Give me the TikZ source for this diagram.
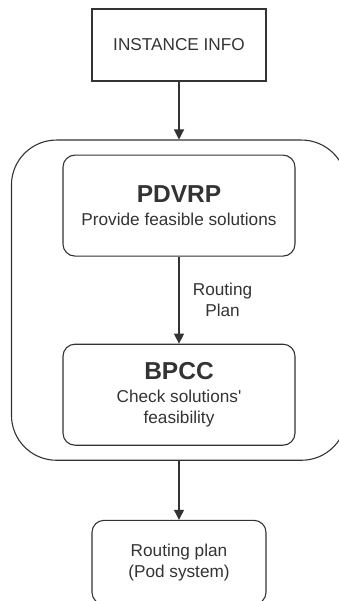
\documentclass[tikz,border=0pt]{standalone}
\usepackage{fontspec}
\setmainfont{Liberation Sans}
\usepackage{xcolor}
\usetikzlibrary{arrows.meta, positioning, fit, backgrounds}

\definecolor{inkgray}{HTML}{333333}
\newcommand{\bodyfont}{\fontsize{17.2}{21}\selectfont}
\newcommand{\titlefont}{\fontsize{24.5}{24}\selectfont\bfseries}

\begin{document}
\begin{tikzpicture}[
  font=\bodyfont,
  >={Triangle[width=10pt,length=10pt]},
  box/.style={draw=inkgray, line width=1.1pt, text=inkgray, align=center,
              minimum width=#1, inner sep=2pt},
  box/.default=174pt,
  arr/.style={->, line width=1.1pt, color=inkgray},
  annot/.style={text=inkgray, align=center},
]
\useasboundingbox (0pt,0pt) rectangle (338pt,-601pt);

%% ---------- Input ----------------------------------------------
\node[box, minimum height=72pt] (info) at (179pt,-45pt) {INSTANCE INFO};

%% ---------- Solver loop ----------------------------------------
\node[box=232pt, minimum height=101pt, rounded corners=12pt,
      below=73pt of info] (pdvrp)
      {{\titlefont PDVRP}\\[2pt]Provide feasible solutions};
\node[box=232pt, minimum height=101pt, rounded corners=12pt,
      below=87pt of pdvrp] (bpcc)
      {{\titlefont BPCC}\\[2pt]Check solutions\textquotesingle\\feasibility};

%% ---- Enclosing frame ------------------------------------------
\begin{scope}[on background layer]
  \node[draw=inkgray, line width=1.1pt, rounded corners=45pt,
        inner xsep=51pt, inner ysep=14.5pt,
        fit=(pdvrp)(bpcc)] (loop) {};
\end{scope}

%% ---------- Output ---------------------------------------------
\node[box, minimum height=84pt, rounded corners=12pt,
      below=59pt of loop] (plan) {Routing plan\\(Pod system)};

%% ---- Arrows ---------------------------------------------------
\draw[arr] (info)  -- (loop);
\draw[arr] (pdvrp) -- node[annot, right, xshift=10pt]{Routing\\Plan} (bpcc);
\draw[arr] (loop)  -- (plan);
\end{tikzpicture}
\end{document}
